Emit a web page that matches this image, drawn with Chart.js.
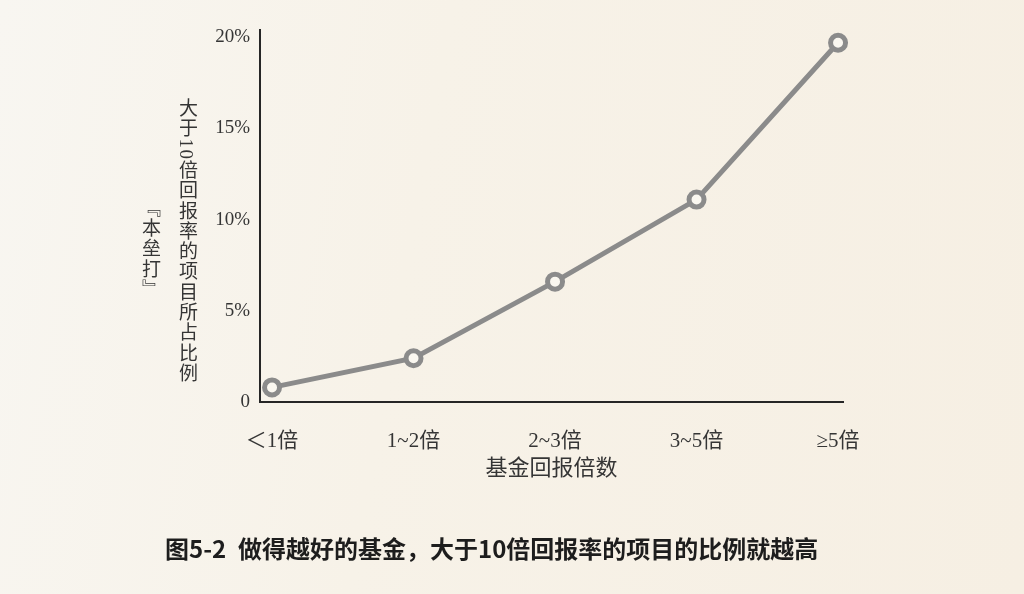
<!DOCTYPE html>
<html>
<head>
<meta charset="utf-8">
<script src="https://cdn.jsdelivr.net/npm/chart.js@4"></script>
<style>
  html, body { margin: 0; padding: 0; }
  body {
    width: 1024px; height: 594px; overflow: hidden; position: relative;
    background: linear-gradient(100deg, #f8f6f1 0%, #f7f2e8 40%, #f6efe3 100%);
  }
  #chart { position: absolute; left: 0; top: 0; }
  .vtitle {
    position: absolute;
    writing-mode: vertical-rl;
    font-family: "Liberation Serif", "Noto Sans CJK SC", serif;
    font-size: 19px;
    letter-spacing: 1.3px;
    color: #353535;
    line-height: 19px;
  }
  .vcjk {
    font-family: "Noto Sans CJK SC", sans-serif;
    font-feature-settings: "vert" 1;
  }
  .caption {
    position: absolute; top: 536px;
    font-family: "Noto Sans CJK SC", sans-serif;
    font-weight: bold; font-size: 24px; line-height: 24px; color: #1d1d1d;
    white-space: nowrap;
  }
</style>
</head>
<body>
<canvas id="chart" width="1024" height="594"></canvas>
<div class="vtitle" style="left:177px; top:98px;">大于10倍回报率的项目所占比例</div>
<div class="vtitle vcjk" style="left:142px; top:198px;">『本垒打』</div>
<div class="caption" style="left:165px;">图5-2</div>
<div class="caption" style="left:238px;">做得越好的基金，大于10倍回报率的项目的比例就越高</div>
<script>
'use strict'
// fund return multiple buckets
const categories = ["＜1倍", "1~2倍", "2~3倍", "3~5倍", "≥5倍"]
// share of deals returning more than 10x (%)
const shares = [0.8, 2.4, 6.6, 11.1, 19.7]
const yTickValues = [0, 5, 10, 15, 20]
const xTitle = "基金回报倍数"

const points = []
for (let i = 0; i < categories.length; i++) {
    points.push({ x: i, y: shares[i] })
}

const textColor = "#353535"
const axisColor = "#262626"

const config = {
    type: 'line',
    data: {
        datasets: [{
            data: points,
            borderColor: "#8b8b8b",
            borderWidth: 5,
            pointRadius: 7.5,
            pointBorderWidth: 5,
            pointBorderColor: "#8b8b8b",
            pointBackgroundColor: "#faf7f0",
            tension: 0,
            clip: false
        }]
    },
    options: {
        responsive: false,
        animation: false,
        events: [],
        layout: { padding: { left: 0, right: 181, top: 30, bottom: 112 } },
        plugins: { legend: { display: false }, tooltip: { enabled: false } },
        scales: {
            x: {
                type: 'linear',
                min: -0.085,
                max: 4.035,
                grid: { display: false },
                border: { display: true, color: axisColor, width: 2 },
                afterBuildTicks: function (scale) {
                    scale.ticks = categories.map((c, i) => ({ value: i }))
                },
                afterFit: function (scale) { scale.height = 80 },
                ticks: {
                    padding: 19,
                    color: textColor,
                    font: { family: "'Liberation Serif', 'Noto Sans CJK SC'", size: 21 },
                    callback: function (v) { return categories[v] }
                },
                title: {
                    display: true,
                    text: xTitle,
                    color: textColor,
                    padding: { top: 0, bottom: 2 },
                    font: { family: "'Noto Sans CJK SC'", size: 22 }
                }
            },
            y: {
                min: 0,
                max: 20.4,
                grid: { display: false },
                border: { display: true, color: axisColor, width: 2 },
                afterBuildTicks: function (scale) {
                    scale.ticks = yTickValues.map(v => ({ value: v }))
                },
                afterFit: function (scale) { scale.width = 260 },
                ticks: {
                    padding: 2,
                    color: textColor,
                    font: { family: "'Liberation Serif'", size: 19 },
                    callback: function (v) { return v === 0 ? "0" : v + "%" }
                }
            }
        }
    }
}

const myChart = new Chart(document.getElementById('chart'), config)
</script>
</body>
</html>
